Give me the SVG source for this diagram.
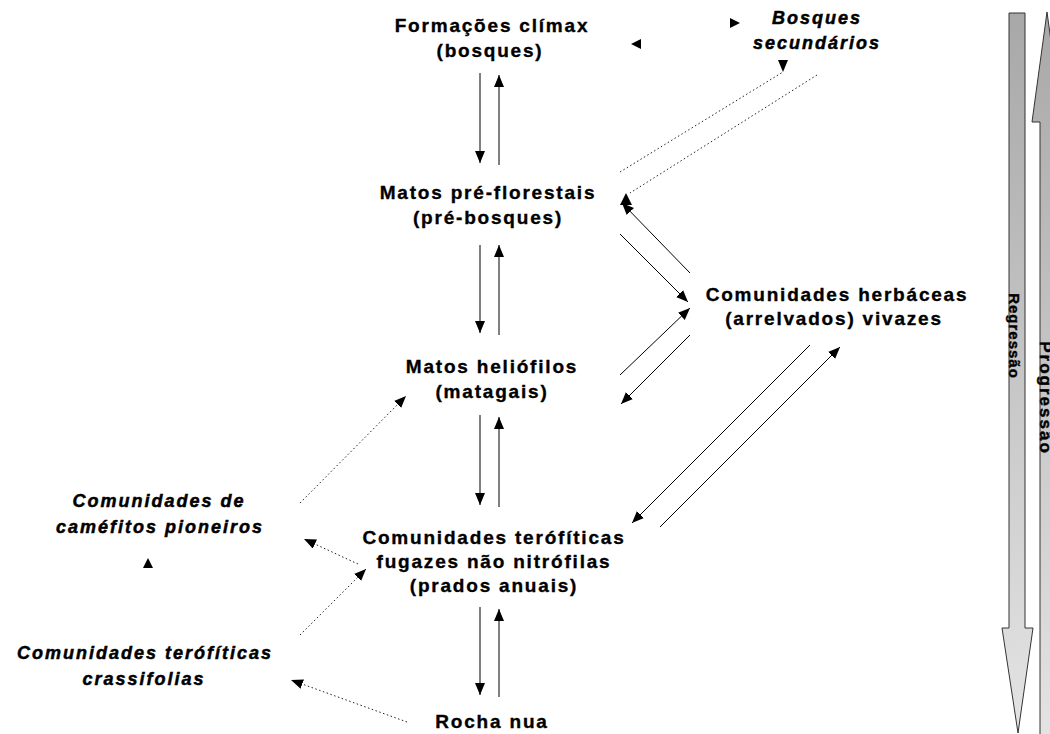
<svg xmlns="http://www.w3.org/2000/svg" width="1050" height="734" viewBox="0 0 1050 734">
<style>
.lbl{font-family:"Liberation Sans",Arial,sans-serif;font-weight:bold;font-size:19px;letter-spacing:1.8px;fill:#000;stroke:#000;stroke-width:0.35px;text-anchor:middle}
.ital{font-family:"Liberation Sans",Arial,sans-serif;font-weight:bold;font-style:italic;font-size:18px;letter-spacing:2px;fill:#000;stroke:#000;stroke-width:0.5px;text-anchor:middle}
.side{font-family:"Liberation Sans",Arial,sans-serif;font-weight:bold;font-size:15px;letter-spacing:1px;fill:#000;stroke:#000;stroke-width:0.4px;text-anchor:middle}
.solid{stroke:#000;stroke-width:1;fill:none;marker-end:url(#ah)}
.dot{stroke:#222;stroke-width:1;fill:none;stroke-dasharray:1.5 2.5}
.head{fill:#000}
.big{stroke:#333;stroke-width:1}
</style>
<defs>
<marker id="ah" markerUnits="userSpaceOnUse" markerWidth="13" markerHeight="11" refX="12" refY="5" orient="auto"><path d="M0,0 L12,5 L0,10 z" fill="#000"/></marker>
<marker id="ahd" markerUnits="userSpaceOnUse" markerWidth="13" markerHeight="11" refX="12" refY="5" orient="auto"><path d="M0,0 L12,5 L0,10 z" fill="#000"/></marker>
<marker id="ahDown" markerUnits="userSpaceOnUse" markerWidth="13" markerHeight="11" refX="12" refY="5" orient="90"><path d="M0,0 L12,5 L0,10 z" fill="#000"/></marker>
<linearGradient id="gReg" x1="0" y1="0" x2="0" y2="1"><stop offset="0" stop-color="#a8a8a8"/><stop offset="1" stop-color="#e4e4e4"/></linearGradient>
<linearGradient id="gProg" x1="0" y1="0" x2="0" y2="1"><stop offset="0" stop-color="#a8a8a8"/><stop offset="1" stop-color="#e4e4e4"/></linearGradient>
</defs>
<rect width="1050" height="734" fill="#fff"/>

<g id="connectors">
<line class="solid" x1="480" y1="73" x2="480" y2="163"/>
<line class="solid" x1="499" y1="165" x2="499" y2="75"/>
<line class="solid" x1="480" y1="245" x2="480" y2="333"/>
<line class="solid" x1="499" y1="335" x2="499" y2="245"/>
<line class="solid" x1="480" y1="415" x2="480" y2="505"/>
<line class="solid" x1="499" y1="507" x2="499" y2="417"/>
<line class="solid" x1="480" y1="607" x2="480" y2="695"/>
<line class="solid" x1="499" y1="697" x2="499" y2="609"/>
<line class="solid" x1="620" y1="234" x2="688" y2="302"/>
<line class="solid" x1="690" y1="273" x2="622" y2="203"/>
<line class="solid" x1="620" y1="375" x2="690" y2="308"/>
<line class="solid" x1="690" y1="335" x2="621" y2="404"/>
<line class="solid" x1="810" y1="345" x2="632" y2="523"/>
<line class="solid" x1="660" y1="527" x2="840" y2="347"/>
<line class="dot" x1="620" y1="172" x2="783" y2="72" marker-end="url(#ahDown)"/>
<line class="dot" x1="817" y1="75" x2="630" y2="193"/>
<line class="dot" x1="300" y1="503" x2="406" y2="396" marker-end="url(#ahd)"/>
<line class="dot" x1="358" y1="564" x2="304" y2="539" marker-end="url(#ahd)"/>
<line class="dot" x1="300" y1="635" x2="366" y2="569" marker-end="url(#ahd)"/>
<line class="dot" x1="407" y1="722" x2="291" y2="680" marker-end="url(#ahd)"/>
<polygon class="head" points="626,193 632,205 620,205"/>
<polygon class="head" points="740,23 730,18 730,28"/>
<polygon class="head" points="631,44 641,39 641,49"/>
<polygon class="head" points="148,558 153,568 143,568"/>
</g>

<g id="n-climax">
<text class="lbl" x="492" y="32">Formações clímax</text>
<text class="lbl" x="490" y="57">(bosques)</text>
</g>
<g id="n-bosques-sec">
<text class="ital" x="817" y="24">Bosques</text>
<text class="ital" x="817" y="49">secundários</text>
</g>
<g id="n-prefloresta">
<text class="lbl" x="488" y="199">Matos pré-florestais</text>
<text class="lbl" x="488" y="224">(pré-bosques)</text>
</g>
<g id="n-herbaceas">
<text class="lbl" x="837" y="301">Comunidades herbáceas</text>
<text class="lbl" x="834" y="325">(arrelvados) vivazes</text>
</g>
<g id="n-heliofilos">
<text class="lbl" x="492" y="373">Matos heliófilos</text>
<text class="lbl" x="492" y="398">(matagais)</text>
</g>
<g id="n-camefitos">
<text class="ital" x="159" y="507">Comunidades de</text>
<text class="ital" x="160" y="533">caméfitos pioneiros</text>
</g>
<g id="n-terofiticas">
<text class="lbl" x="494" y="544">Comunidades terófíticas</text>
<text class="lbl" x="494" y="568">fugazes não nitrófilas</text>
<text class="lbl" x="494" y="592">(prados anuais)</text>
</g>
<g id="n-crassifolias">
<text class="ital" x="145" y="659">Comunidades terófíticas</text>
<text class="ital" x="144" y="685">crassifolias</text>
</g>
<g id="n-rocha">
<text class="lbl" x="492" y="728">Rocha nua</text>
</g>

<g id="n-regressao">
<polygon class="big" fill="url(#gReg)" points="1009,13 1025,13 1025,628 1033,628 1018,733 1002,628 1009,628"/>
<text class="side" transform="translate(1009,336) rotate(90)">Regressão</text>
</g>
<g id="n-progressao">
<polygon class="big" fill="url(#gProg)" points="1040,740 1040,122 1032,122 1047,12 1062,122 1056,122 1056,740"/>
<text class="side" style="font-size:17px;letter-spacing:2px" transform="translate(1040,398) rotate(90)">Progressão</text>
</g>
</svg>
